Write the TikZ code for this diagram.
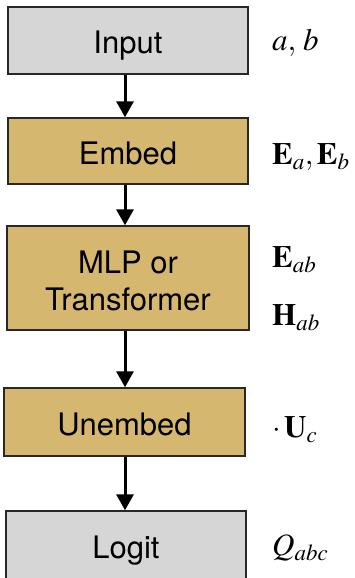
\documentclass[tikz,border=0pt]{standalone}
\usepackage{mathptmx}
\usepackage[no-math]{fontspec}
\setmainfont{TeX Gyre Heros}
\usetikzlibrary{arrows.meta}
\definecolor{boxgray}{RGB}{214,214,214}
\definecolor{boxgold}{RGB}{214,183,112}
\definecolor{edge}{RGB}{40,40,40}
\tikzset{
  blk/.style={draw=edge, line width=1.4pt, inner sep=0pt, font=\fontsize{31}{37}\selectfont, align=center},
  one/.style={text height=27pt, text depth=0pt},
  grayblk/.style={blk, fill=boxgray},
  goldblk/.style={blk, fill=boxgold},
  arr/.style={line width=3pt, -{Triangle[length=16pt,width=17pt]}},
  lab/.style={anchor=west, inner sep=0pt, font=\fontsize{31}{37}\selectfont}
}
\begin{document}
\begin{tikzpicture}[x=1pt,y=-1pt]
\useasboundingbox (0,0) rectangle (354,578);
\clip (0,0) rectangle (354,578);
\node[grayblk, one, minimum width=240pt, minimum height=67pt] (in) at (128,40.5) {Input};
\node[goldblk, one, minimum width=240pt, minimum height=66pt] (emb) at (128,151) {Embed};
\node[goldblk, minimum width=242pt, minimum height=104pt] (mlp) at (128,278) {};
\node[font=\fontsize{31}{37.5}\selectfont, align=center, inner sep=0pt] (mlpt) at (128,281) {MLP or\\Transformer};
\node[goldblk, one, minimum width=241pt, minimum height=68pt] (unemb) at (124.5,422) {Unembed};
\node[grayblk, one, minimum width=240pt, minimum height=68pt] (logit) at (126,545) {Logit};
\draw[arr] ([xshift=-3pt]in.south) -- ([xshift=-3pt]in.south |- emb.north);
\draw[arr] ([xshift=-3pt]emb.south) -- ([xshift=-3pt]emb.south |- mlp.north);
\draw[arr] ([xshift=-3pt]mlp.south) -- ([xshift=-3pt]mlp.south |- unemb.north);
\draw[arr] ([xshift=0.5pt]unemb.south) -- ([xshift=0.5pt]unemb.south |- logit.north);
\node[lab] (lab1) at (272,43) {$a,\,b$};
\node[lab] (lab2) at (272,157) {$\mathbf{E}_a,\mathbf{E}_b$};
\node[lab] (lab3) at (272,260) {$\mathbf{E}_{ab}$};
\node[lab] (lab4) at (272,318) {$\mathbf{H}_{ab}$};
\node[lab] (lab5) at (272,430) {$\cdot\,\mathbf{U}_c$};
\node[lab] (lab6) at (272,548) {$Q_{abc}$};
\end{tikzpicture}
\end{document}
